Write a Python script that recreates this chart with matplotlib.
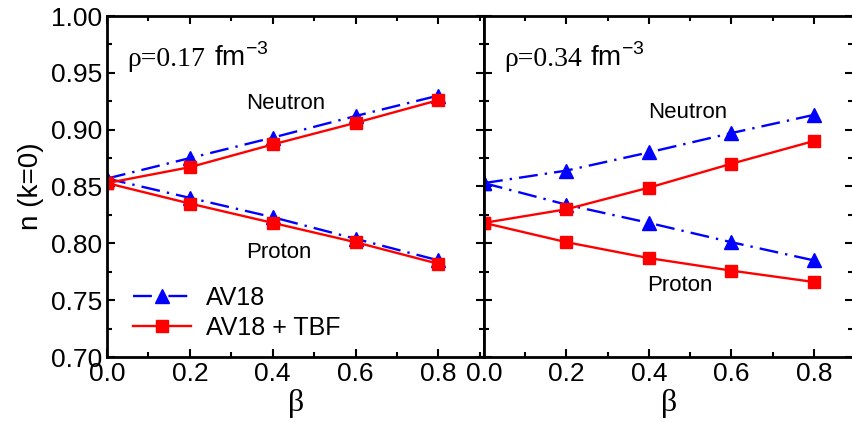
import numpy as np
import matplotlib
matplotlib.use('Agg')
import matplotlib.pyplot as plt
from matplotlib.ticker import MultipleLocator, FormatStrFormatter
from matplotlib.offsetbox import TextArea, HPacker, AnchoredOffsetbox

plt.rcParams['font.family'] = ['Liberation Sans', 'DejaVu Sans']
plt.rcParams['mathtext.fontset'] = 'custom'
plt.rcParams['mathtext.rm'] = 'Liberation Serif'
plt.rcParams['mathtext.sf'] = 'Liberation Sans'

# beta values
beta = [0.0, 0.2, 0.4, 0.6, 0.8]

# rho = 0.17 fm^-3
av18_n_017 = [0.857, 0.875, 0.893, 0.912, 0.930]
av18_p_017 = [0.857, 0.840, 0.823, 0.804, 0.785]
tbf_n_017 = [0.853, 0.867, 0.887, 0.906, 0.926]
tbf_p_017 = [0.853, 0.835, 0.818, 0.801, 0.782]

# rho = 0.34 fm^-3
av18_n_034 = [0.853, 0.864, 0.880, 0.897, 0.913]
av18_p_034 = [0.853, 0.834, 0.818, 0.801, 0.785]
tbf_n_034 = [0.818, 0.830, 0.849, 0.870, 0.890]
tbf_p_034 = [0.818, 0.801, 0.787, 0.776, 0.766]

blue = '#0000FF'
red = '#FF0000'
dashdot = (0, (8, 3, 1, 3))

fig = plt.figure(figsize=(8.52, 4.23), dpi=100)
ax1 = fig.add_axes([107/852, 1-357/423, 377/852, 341/423])
ax2 = fig.add_axes([484/852, 1-357/423, 369/852, 341/423])


def draw(ax, an, ap, tn, tp):
    ax.plot(beta, an, color=blue, lw=1.7, ls=dashdot, marker='^', ms=10,
            label='AV18')
    ax.plot(beta, ap, color=blue, lw=1.7, ls=dashdot, marker='^', ms=10)
    ax.plot(beta, tn, color=red, lw=1.7, ls='-', marker='s', ms=8.5,
            label='AV18 + TBF')
    ax.plot(beta, tp, color=red, lw=1.7, ls='-', marker='s', ms=8.5)
    ax.set_ylim(0.70, 1.00)
    ax.xaxis.set_major_locator(MultipleLocator(0.2))
    ax.xaxis.set_minor_locator(MultipleLocator(0.1))
    ax.yaxis.set_major_locator(MultipleLocator(0.05))
    ax.yaxis.set_minor_locator(MultipleLocator(0.025))
    ax.xaxis.set_major_formatter(FormatStrFormatter('%.1f'))
    ax.tick_params(which='both', direction='in', top=True, right=True,
                   width=1.5, labelsize=19)
    ax.tick_params(which='major', length=6)
    ax.tick_params(which='minor', length=3.5)
    for s in ax.spines.values():
        s.set_linewidth(2)
    ax.set_xlabel(r'$\mathrm{\beta}$', fontsize=23, labelpad=1)


def rho_label(ax, val):
    t1 = TextArea('\u03c1=' + val, textprops=dict(family='Liberation Serif', size=20))
    t2 = TextArea(r'fm$^{\mathsf{-3}}$', textprops=dict(family='Liberation Sans', size=20))
    box = HPacker(children=[t1, t2], align='baseline', pad=0, sep=6)
    anc = AnchoredOffsetbox(loc='upper left', child=box, frameon=False,
                            bbox_to_anchor=(0.055, 0.92),
                            bbox_transform=ax.transAxes, borderpad=0, pad=0)
    ax.add_artist(anc)


draw(ax1, av18_n_017, av18_p_017, tbf_n_017, tbf_p_017)
draw(ax2, av18_n_034, av18_p_034, tbf_n_034, tbf_p_034)

ax1.set_xlim(0, 0.91)
ax2.set_xlim(0, 0.895)
ax1.yaxis.set_major_formatter(FormatStrFormatter('%.2f'))
ax2.tick_params(labelleft=False)
ax1.set_ylabel('n (k=0)', fontsize=20, labelpad=5)

rho_label(ax1, '0.17')
rho_label(ax2, '0.34')

ax1.text(0.432, 0.923, 'Neutron', fontsize=16, ha='center', va='center')
ax1.text(0.415, 0.792, 'Proton', fontsize=16, ha='center', va='center')
ax2.text(0.493, 0.915, 'Neutron', fontsize=16, ha='center', va='center')
ax2.text(0.476, 0.763, 'Proton', fontsize=16, ha='center', va='center')

ax1.legend(loc='lower left', bbox_to_anchor=(0.07, 0.05), frameon=False,
           fontsize=18, numpoints=1, handlelength=2.3, handletextpad=0.6,
           labelspacing=0.25, borderaxespad=0.0, borderpad=0.0)

fig.savefig('out.png', dpi=100)
